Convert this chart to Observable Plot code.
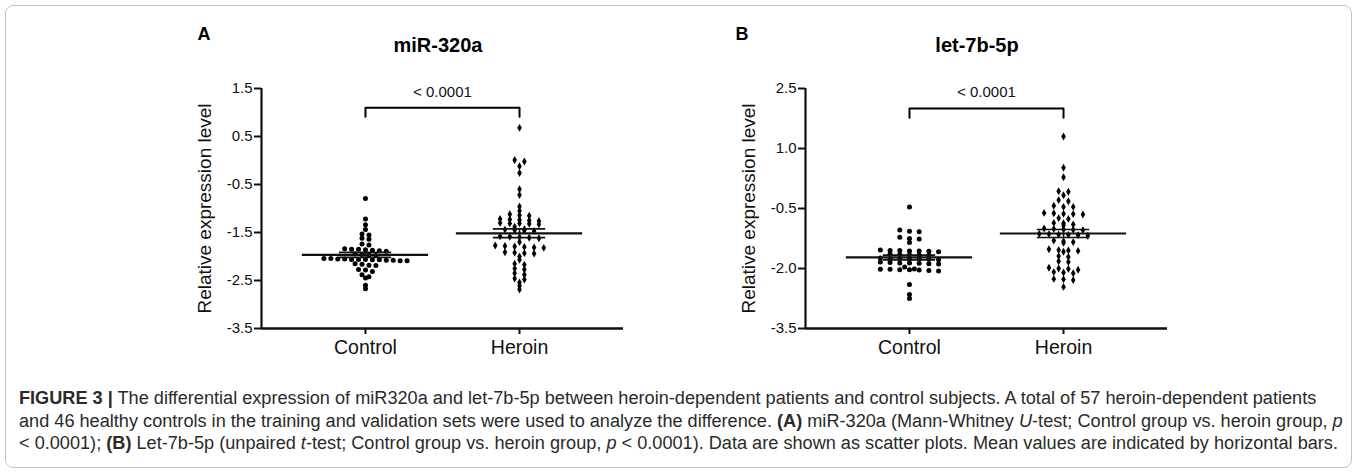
<!DOCTYPE html>
<html><head><meta charset="utf-8">
<script src="https://cdn.jsdelivr.net/npm/d3@7"></script>
<script src="https://cdn.jsdelivr.net/npm/@observablehq/plot@0.6"></script>
<style>
body{margin:0;background:#fff;font-family:"Liberation Sans",Arial,sans-serif;width:1357px;height:473px;overflow:hidden;position:relative;}
#frame{position:absolute;left:5px;top:5px;width:1345px;height:461px;border:1px solid #c4c4c4;border-radius:8px;}
.panel{position:absolute;top:68px;}
.letter{position:absolute;top:24px;font-weight:bold;font-size:18px;transform:translateX(-50%);}
.title{position:absolute;top:34px;font-weight:bold;font-size:20px;transform:translateX(-50%);white-space:nowrap;}
#caption{position:absolute;left:19px;top:387px;font-size:18px;line-height:22.5px;color:#2a2a2a;white-space:nowrap;}
#caption div{display:block;}
#caption span.l{display:inline-block;}
</style></head><body>
<div id="frame"></div>
<div class="letter" style="left:204px">A</div>
<div class="title" style="left:438px">miR-320a</div>
<div class="letter" style="left:742px">B</div>
<div class="title" style="left:977px">let-7b-5p</div>
<div class="panel" id="pA" style="left:181px"></div>
<div class="panel" id="pB" style="left:725px"></div>
<div id="caption">
<div><span class="l" id="l1"><b>FIGURE 3 |</b> The differential expression of miR320a and let-7b-5p between heroin-dependent patients and control subjects. A total of 57 heroin-dependent patients</span></div>
<div><span class="l" id="l2">and 46 healthy controls in the training and validation sets were used to analyze the difference. <b>(A)</b> miR-320a (Mann-Whitney <i>U</i>-test; Control group vs. heroin group, <i>p</i></span></div>
<div><span class="l" id="l3">&lt; 0.0001); <b>(B)</b> Let-7b-5p (unpaired <i>t</i>-test; Control group vs. heroin group, <i>p</i> &lt; 0.0001). Data are shown as scatter plots. Mean values are indicated by horizontal bars.</span></div>
</div>
<script>
const groups = ["Control", "Heroin"];
const yTicksA = [1.5, 0.5, -0.5, -1.5, -2.5, -3.5];
const yTicksB = [2.5, 1.0, -0.5, -2.0, -3.5];
const yLabel = "Relative expression level";
const pLabel = "< 0.0001";

const controlA = [-0.79, -1.22, -1.34, -1.44, -1.53, -1.55, -1.62, -1.64, -1.74, -1.76,
  -1.84, -1.85, -1.85, -1.86, -1.87, -1.88, -1.89,
  -1.95, -1.96, -1.97, -1.98,
  -2.04, -2.04, -2.05, -2.05, -2.06, -2.06, -2.06, -2.07, -2.07, -2.08, -2.08, -2.09, -2.09,
  -2.15, -2.16, -2.18, -2.19,
  -2.27, -2.28, -2.31,
  -2.38, -2.42, -2.45,
  -2.60, -2.67];
const heroinA = [0.68, 0.01, -0.02, -0.12, -0.26, -0.60, -0.72, -0.96, -1.05, -1.12, -1.14, -1.15,
  -1.22, -1.23, -1.24, -1.25, -1.26,
  -1.30, -1.31, -1.31, -1.32, -1.33,
  -1.38,
  -1.43, -1.44, -1.45, -1.46, -1.47,
  -1.58, -1.59, -1.60, -1.61, -1.62,
  -1.70,
  -1.77, -1.78, -1.79, -1.80, -1.81, -1.82,
  -1.91, -1.92, -1.93, -1.94,
  -2.00, -2.07,
  -2.15, -2.17, -2.25, -2.27, -2.35, -2.38, -2.46, -2.48, -2.54, -2.61, -2.69];
const controlB = [-0.46, -1.04, -1.07, -1.08, -1.22, -1.25, -1.26, -1.35,
  -1.54, -1.55, -1.55, -1.56, -1.56, -1.57, -1.58,
  -1.64, -1.65, -1.66, -1.66, -1.67,
  -1.74, -1.75, -1.75, -1.76, -1.76, -1.77, -1.78,
  -1.84, -1.85, -1.86, -1.86, -1.87, -1.88, -1.89,
  -1.96,
  -2.01, -2.02, -2.02, -2.03, -2.03, -2.04, -2.05, -2.06,
  -2.40, -2.65, -2.75];
const heroinB = [1.30, 0.52, 0.28,
  -0.07, -0.08, -0.17,
  -0.29, -0.32,
  -0.43, -0.46, -0.46,
  -0.61, -0.62, -0.63, -0.64, -0.65,
  -0.74, -0.76,
  -0.86, -0.87, -0.90, -0.92,
  -1.00, -1.01, -1.02, -1.03, -1.04,
  -1.13, -1.14, -1.15, -1.16, -1.17, -1.18,
  -1.30, -1.32, -1.34, -1.36,
  -1.52, -1.54, -1.55, -1.56, -1.58,
  -1.69, -1.71,
  -1.82, -1.84,
  -1.98, -2.00, -2.01, -2.03,
  -2.09, -2.10, -2.12,
  -2.26, -2.27, -2.29,
  -2.46];

// fit caption font so its longest line spans the figure width
(function () {
  const cap = document.getElementById("caption");
  const w = Math.max(...["l1", "l2", "l3"].map(id => document.getElementById(id).getBoundingClientRect().width));
  cap.style.fontSize = (18 * 1324 / w).toFixed(2) + "px";
})();

// Row-based scatter layout (GraphPad-style): points with close values share a row
function swarm(values, gi, thr, sp) {
  const sorted = values.slice().sort((a, b) => b - a);
  const rows = [];
  for (const v of sorted) {
    const last = rows[rows.length - 1];
    if (last && last[0] - v <= thr) last.push(v); else rows.push([v]);
  }
  const out = [];
  for (const row of rows) {
    const n = row.length;
    row.forEach((v, k) => out.push({x: gi + (k - (n - 1) / 2) * sp, y: v}));
  }
  return out;
}
function stats(values, gi) {
  const m = d3.mean(values), s = d3.deviation(values) / Math.sqrt(values.length);
  return {i: gi, mean: m, lo: m - s, hi: m + s};
}

function panel(el, {control, heroin, yDomain, yTicks, thrC, thrH, spC, spH, bLow, bHigh, pY}) {
  const xDom = [-0.675, 1.675];
  const st = [stats(control, 0), stats(heroin, 1)];
  const caps = st.flatMap(d => [{i: d.i, y: d.lo}, {i: d.i, y: d.hi}]);
  const bracket = [{x: 0, y: bLow}, {x: 0, y: bHigh}, {x: 1, y: bHigh}, {x: 1, y: bLow}];
  const p = Plot.plot({
    width: 452, height: 305,
    marginLeft: 80, marginRight: 10, marginTop: 20, marginBottom: 45,
    style: {fontFamily: "Liberation Sans, Arial, sans-serif", color: "#111", background: "transparent", overflow: "visible"},
    x: {domain: xDom, axis: null},
    y: {domain: yDomain, axis: null},
    marks: [
      Plot.axisY({ticks: yTicks, tickFormat: d => d.toFixed(1), tickSize: 7, tickPadding: 2, fontSize: 15, label: null, strokeWidth: 2}),
      Plot.axisX({ticks: [0, 1], tickFormat: i => groups[i], tickSize: 6, tickPadding: 6, fontSize: 19.5, label: null, strokeWidth: 2}),
      Plot.ruleX([xDom[0]], {strokeWidth: 2.2}),
      Plot.ruleY([yDomain[0]], {strokeWidth: 2.6}),
      Plot.text([yLabel], {frameAnchor: "left", textAnchor: "middle", rotate: -90, dx: -57, fontSize: 19}),
      Plot.dot(swarm(control, 0, thrC, spC), {x: "x", y: "y", r: 2.5, fill: "black"}),
      Plot.dot(swarm(heroin, 1, thrH, spH), {x: "x", y: "y", r: 2.4, fill: "black", symbol: "diamond"}),
      Plot.ruleY(st, {x1: d => d.i - 0.41, x2: d => d.i + 0.41, y: "mean", strokeWidth: 2.2}),
      Plot.ruleY(caps, {x1: d => d.i - 0.17, x2: d => d.i + 0.17, y: "y", strokeWidth: 1.6}),
      Plot.ruleX(st, {x: "i", y1: "lo", y2: "hi", strokeWidth: 1.6}),
      Plot.line(bracket, {x: "x", y: "y", strokeWidth: 2, stroke: "black"}),
      Plot.text([pLabel], {x: () => 0.5, y: () => pY, fontSize: 15})
    ]
  });
  document.getElementById(el).appendChild(p);
}

panel("pA", {control: controlA, heroin: heroinA, yDomain: [-3.5, 1.5], yTicks: yTicksA,
  thrC: 0.06, thrH: 0.06, spC: 0.045, spH: 0.063, bLow: 0.91, bHigh: 1.1, pY: 1.43});
panel("pB", {control: controlB, heroin: heroinB, yDomain: [-3.5, 2.5], yTicks: yTicksB,
  thrC: 0.06, thrH: 0.06, spC: 0.063, spH: 0.063, bLow: 1.77, bHigh: 2.0, pY: 2.4});
</script>
</body></html>
